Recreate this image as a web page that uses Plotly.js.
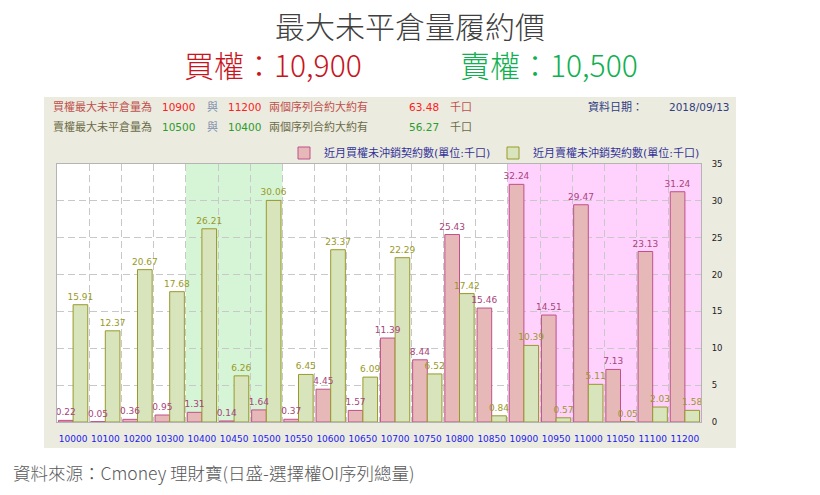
<!DOCTYPE html>
<html><head><meta charset="utf-8">
<script src="https://cdn.plot.ly/plotly-3.0.1.min.js"></script>
<style>html,body{margin:0;padding:0;background:#fff;}</style>
</head><body>
<div id="chart" style="width:820px;height:495px"></div>
<script>
// ---- data ----
const strikes = ['10000','10100','10200','10300','10400','10450','10500','10550','10600','10650',
                 '10700','10750','10800','10850','10900','10950','11000','11050','11100','11200'];
const callOI = [0.22,0.05,0.36,0.95,1.31,0.14,1.64,0.37,4.45,1.57,
                11.39,8.44,25.43,15.46,32.24,14.51,29.47,7.13,23.13,31.24];
const putOI  = [15.91,12.37,20.67,17.68,26.21,6.26,30.06,6.45,23.37,6.09,
                22.29,6.52,17.42,0.84,10.39,0.57,5.11,0.05,2.03,1.58];
const callName = '近月買權未沖銷契約數(單位:千口)';
const putName  = '近月賣權未沖銷契約數(單位:千口)';
const yTicks = [0,5,10,15,20,25,30,35];
const callMax = ['10900','11200'];
const callSum = '63.48';
const putMax = ['10500','10400'];
const putSum = '56.27';
const dataDate = '2018/09/13';
const putZone = ['10400','10500'];
const callZone = ['10900','11200'];
const mainTitle = '最大未平倉量履約價';
const callHeadline = '買權：10,900';
const putHeadline = '賣權：10,500';
const sourceText = '資料來源：Cmoney 理財寶(日盛-選擇權OI序列總量)';

// ---- geometry helpers (page px -> paper coords) ----
const W = 820, H = 495, L = 57, R = 701, T = 164, B = 422;
const px = v => (v - L) / (R - L);
const py = v => (B - v) / (B - T);

const CJK = 'Noto Sans CJK TC, sans-serif';
const SMALL = 'DejaVu Sans, Noto Sans CJK TC, sans-serif';
const BW = 0.455;

const callStyle = {color: '#e6b8b8', line: {color: '#c0508a', width: 1}};
const putStyle = {color: '#d8e4bc', line: {color: '#99992a', width: 1}};
const noFill = {color: 'rgba(0,0,0,0)', line: {width: 0}};

const traces = [
  {type: 'bar', name: callName, x: strikes, y: callOI, offset: -BW, width: BW, marker: callStyle},
  {type: 'bar', name: putName, x: strikes, y: putOI, offset: 0, width: BW, marker: putStyle},
  {type: 'bar', name: callName, x: strikes, y: callOI, offset: -BW, width: BW, marker: noFill, showlegend: false,
   text: callOI.map(v => v.toFixed(2)), textposition: 'outside', cliponaxis: false, constraintext: 'none',
   textfont: {family: SMALL, size: 9, color: '#a8447a'}},
  {type: 'bar', name: putName, x: strikes, y: putOI, offset: 0, width: BW, marker: noFill, showlegend: false,
   text: putOI.map(v => v.toFixed(2)), textposition: 'outside', cliponaxis: false, constraintext: 'none',
   textfont: {family: SMALL, size: 9, color: '#999926'}}
];

const lab1 = '#c0504d', num1 = '#ff2020', lab2 = '#6b6b47', num2 = '#2a9d2a', gray = '#8090b0', navy = '#2f4080';
function seg(x, y, text, color, size) {
  return {xref: 'paper', yref: 'paper', x: px(x), y: py(y), xanchor: 'left', yanchor: 'middle',
          text: text, showarrow: false, font: {family: SMALL, size: size || 11, color: color}};
}
const annotations = [
  seg(51, 107, '買權最大未平倉量為', lab1),
  seg(160, 107, callMax[0], num1, 10.5),
  seg(205, 107, '與', gray),
  seg(226, 107, callMax[1], num1, 10.5),
  seg(267, 107, '兩個序列合約大約有', lab1),
  seg(407, 107, callSum, num1, 10.5),
  seg(448, 107, '千口', lab1),
  seg(586, 107, '資料日期：', navy),
  seg(667, 107, dataDate, navy, 10.5),
  seg(51, 127, '賣權最大未平倉量為', lab2),
  seg(160, 127, putMax[0], num2, 10.5),
  seg(205, 127, '與', gray),
  seg(226, 127, putMax[1], num2, 10.5),
  seg(267, 127, '兩個序列合約大約有', lab2),
  seg(407, 127, putSum, num2, 10.5),
  seg(448, 127, '千口', lab2),
  {xref: 'paper', yref: 'paper', x: px(182), y: py(64), xanchor: 'left', yanchor: 'middle',
   text: callHeadline, showarrow: false, font: {family: CJK, size: 30, weight: 300, color: '#c8141c'}},
  {xref: 'paper', yref: 'paper', x: px(458), y: py(64), xanchor: 'left', yanchor: 'middle',
   text: putHeadline, showarrow: false, font: {family: CJK, size: 30, weight: 300, color: '#10b050'}},
  {xref: 'paper', yref: 'paper', x: px(11), y: py(472), xanchor: 'left', yanchor: 'middle',
   text: sourceText, showarrow: false, font: {family: CJK, size: 17.5, weight: 300, color: '#595959'}}
];

const shapes = [
  {type: 'rect', xref: 'paper', yref: 'paper', x0: px(44), x1: px(736), y0: py(448), y1: py(97),
   fillcolor: '#ecebe0', line: {width: 0}, layer: 'below'},
  {type: 'rect', xref: 'paper', yref: 'paper', x0: 0, x1: 1, y0: 0, y1: 1,
   fillcolor: '#ffffff', line: {width: 0}, layer: 'below'},
  {type: 'rect', xref: 'x', yref: 'paper', x0: strikes.indexOf(putZone[0]) - 0.5, x1: strikes.indexOf(putZone[1]) + 0.5,
   y0: 0, y1: 1, fillcolor: '#d6f5d6', line: {width: 0}, layer: 'below'},
  {type: 'rect', xref: 'x', yref: 'paper', x0: strikes.indexOf(callZone[0]) - 0.5, x1: strikes.indexOf(callZone[1]) + 0.5,
   y0: 0, y1: 1, fillcolor: '#ffd2fe', line: {width: 0}, layer: 'below'}
];

const layout = {
  width: W, height: H,
  margin: {l: L, r: W - R, t: T, b: H - B, pad: 0},
  paper_bgcolor: '#ffffff', plot_bgcolor: 'rgba(0,0,0,0)',
  title: {text: mainTitle, x: 0.5, xanchor: 'center', y: 1 - 27 / H, yanchor: 'middle',
          font: {family: CJK, size: 30, weight: 300, color: '#404040'}},
  barmode: 'overlay',
  showlegend: true,
  legend: {orientation: 'h', x: px(284), xanchor: 'left', y: py(153), yanchor: 'middle',
           bgcolor: 'rgba(0,0,0,0)', itemwidth: 30, entrywidth: 164,
           font: {family: SMALL, size: 11, color: '#333399'}, traceorder: 'normal'},
  xaxis: {type: 'category', tickson: 'boundaries', showgrid: true, gridcolor: '#c8c8c8', griddash: '7px,4px',
          gridwidth: 1, ticks: '', showline: true, linecolor: '#b4b4b4', mirror: true, tickangle: 0,
          tickfont: {family: SMALL, size: 9, color: '#2020f0'}, ticklabelstandoff: 8, fixedrange: true},
  yaxis: {side: 'right', range: [0, 35], tickvals: yTicks, showgrid: true, gridcolor: '#c8c8c8', griddash: '7px,4px',
          zeroline: false, ticks: '', showline: true, linecolor: '#b4b4b4', mirror: true,
          tickfont: {family: SMALL, size: 8.5, color: '#222222'}, ticklabelstandoff: 8, fixedrange: true},
  annotations: annotations,
  shapes: shapes
};

Plotly.newPlot('chart', traces, layout, {displayModeBar: false, staticPlot: true});
</script>
</body></html>
